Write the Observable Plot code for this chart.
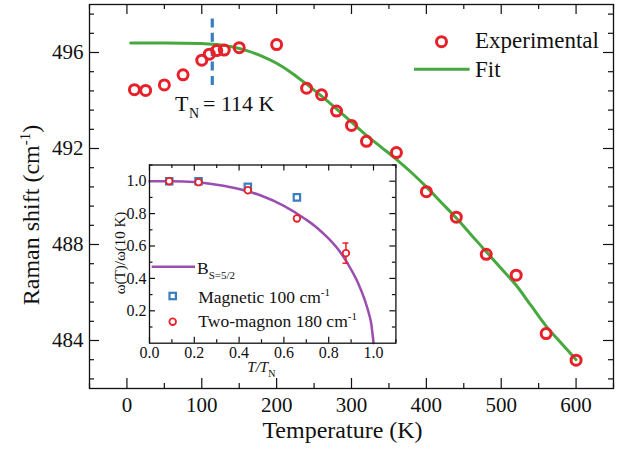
<!DOCTYPE html>
<html><head><meta charset="utf-8">
<script src="https://cdn.jsdelivr.net/npm/d3@7"></script>
<script src="https://cdn.jsdelivr.net/npm/@observablehq/plot@0.6"></script>
<style>
body{margin:0;background:#fff;}
#wrap{position:relative;width:620px;height:450px;}
#insetBox{position:absolute;left:100px;top:155px;}
text{white-space:pre;}
</style></head><body><div id="wrap"><div id="insetBox"></div></div>
<script>
// ---- Main panel data ----
const expT = [10, 25, 50, 75, 100, 110, 120, 130, 150, 200, 240, 260, 280, 300, 320, 360, 400, 440, 480, 520, 560, 600];
const expW = [494.45, 494.42, 494.65, 495.07, 495.68, 495.93, 496.08, 496.1, 496.2, 496.33, 494.51, 494.24, 493.56, 492.96, 492.30, 491.83, 490.20, 489.14, 487.59, 486.72, 484.29, 483.18];
const fitT = [5, 50, 100, 120, 140, 160, 180, 200, 220, 240, 260, 280, 300, 320, 340, 360, 380, 400, 420, 440, 460, 480, 500, 520, 540, 560, 580, 600];
const fitW = [496.40, 496.40, 496.38, 496.33, 496.24, 496.08, 495.85, 495.55, 495.15, 494.68, 494.18, 493.65, 493.10, 492.55, 492.05, 491.55, 491.0, 490.4, 489.75, 489.1, 488.4, 487.7, 487.0, 486.3, 485.45, 484.6, 483.9, 483.2];
const tnT = [114];
const tnSpan = [497.4, 494.5];
const xTickLabels = [0, 100, 200, 300, 400, 500, 600];
const yTickLabels = [484, 488, 492, 496];

// ---- Inset data ----
const magX = [0.088, 0.219, 0.439, 0.658];
const magY = [1.0, 1.0, 0.965, 0.90];
const tmX = [0.088, 0.219, 0.439, 0.658, 0.877];
const tmY = [1.0, 0.994, 0.944, 0.77, 0.556];
const tmErr = [0.015, 0.008, 0.01, 0.008, 0.062];
const bX = [0, 0.1, 0.2, 0.3, 0.4, 0.5, 0.6, 0.7, 0.75, 0.8, 0.85, 0.9, 0.93, 0.96, 0.98, 0.99, 1.0];
const bY = [1.0, 1.0, 0.995, 0.978, 0.952, 0.91, 0.848, 0.762, 0.71, 0.645, 0.565, 0.455, 0.375, 0.27, 0.18, 0.12, 0.0];
const ixTickLabels = [0, 0.2, 0.4, 0.6, 0.8, 1.0];
const iyTickLabels = [0.2, 0.4, 0.6, 0.8, 1.0];

const FONT = "'Liberation Serif','Times New Roman',serif";
const RED = "#e8202a", GREEN = "#47a83f", BLUE = "#3a7dc0", PURPLE = "#9a4fb0", INK = "#111";

const exp = expT.map((t, i) => ({t, w: expW[i]}));
const fit = fitT.map((t, i) => ({t, w: fitW[i]}));
const mag = magX.map((x, i) => ({x, y: magY[i]}));
const tm = tmX.map((x, i) => ({x, y: tmY[i], e: tmErr[i]}));
const brill = bX.map((x, i) => ({x, y: bY[i]}));

function ticksX(vals, len, fh) {
  return [
    Plot.ruleX(vals, {x: d => d, insetTop: fh - len, stroke: INK, strokeWidth: 1.2}),
    Plot.ruleX(vals, {x: d => d, insetBottom: fh - len, stroke: INK, strokeWidth: 1.2})
  ];
}
function ticksY(vals, len, fw) {
  return [
    Plot.ruleY(vals, {y: d => d, insetRight: fw - len, stroke: INK, strokeWidth: 1.2}),
    Plot.ruleY(vals, {y: d => d, insetLeft: fw - len, stroke: INK, strokeWidth: 1.2})
  ];
}

// ---- Main chart ----
const W = 620, H = 450, mL = 89, mR = 7, mT = 4, mB = 62;
const fw = W - mL - mR, fh = H - mT - mB;
const xMinor = d3.range(-50, 651, 50).filter(v => v % 100 !== 0);
const yAll = d3.range(0, 20).map(i => +(482.4 + 0.8 * i).toFixed(1)).filter(v => v < 498);
const yMinor = yAll.filter(v => !yTickLabels.includes(v));

const main = Plot.plot({
  width: W, height: H, marginLeft: mL, marginRight: mR, marginTop: mT, marginBottom: mB,
  style: {fontFamily: FONT, fontSize: "21px", color: INK, background: "white"},
  x: {domain: [-50, 650]},
  y: {domain: [482, 498]},
  marks: [
    Plot.axisX(xTickLabels, {tickSize: 0, tickPadding: 9, label: null, fontSize: 21}),
    Plot.axisY(yTickLabels, {tickSize: 0, tickPadding: 6, label: null, fontSize: 21}),
    ...ticksX(xTickLabels, 10, fh),
    ...ticksX(xMinor, 5, fh),
    ...ticksY(yTickLabels, 10, fw),
    ...ticksY(yMinor, 5, fw),
    Plot.line(fit, {x: "t", y: "w", stroke: GREEN, strokeWidth: 3, curve: "monotone-x"}),
    Plot.ruleX(tnT, {x: d => d, y1: tnSpan[0], y2: tnSpan[1], stroke: BLUE, strokeWidth: 3.2, strokeDasharray: "9,5.4"}),
    Plot.dot(exp, {x: "t", y: "w", r: 5, stroke: RED, strokeWidth: 3, fill: "none"}),
    Plot.frame({stroke: INK, strokeWidth: 1.3})
  ]
});
document.getElementById("wrap").prepend(main);

const svg = d3.select(main);
const g = svg.append("g").attr("font-family", FONT).attr("fill", INK).attr("text-anchor", "start");
// legend
g.append("circle").attr("cx", 441.5).attr("cy", 41.7).attr("r", 5).attr("fill", "none").attr("stroke", RED).attr("stroke-width", 3);
g.append("text").attr("x", 475).attr("y", 48.3).attr("font-size", 23).text("Experimental");
g.append("line").attr("x1", 414).attr("x2", 469.6).attr("y1", 69.3).attr("y2", 69.3).attr("stroke", GREEN).attr("stroke-width", 3);
g.append("text").attr("x", 475).attr("y", 76.7).attr("font-size", 23).text("Fit");
// T_N annotation
const tn = g.append("text").attr("y", 110.7).attr("font-size", 22);
tn.append("tspan").attr("x", 175).text("T");
tn.append("tspan").attr("x", 189).attr("dy", 7).attr("font-size", 14).text("N");
tn.append("tspan").attr("x", 203).attr("dy", -7).text("= 114 K");
// axis titles
g.append("text").attr("x", 342.5).attr("y", 438).attr("font-size", 24).attr("text-anchor", "middle").text("Temperature (K)");
const yl = g.append("text").attr("transform", "translate(39,215) rotate(-90)").attr("font-size", 24).attr("text-anchor", "middle");
yl.append("tspan").text("Raman shift (cm");
yl.append("tspan").attr("dy", -9).attr("font-size", 15).text("-1");
yl.append("tspan").attr("dy", 9).text(")");

// ---- Inset chart ----
const IW = 305, IH = 230, iL = 49, iT = 9.5, ifw = 246.4, ifh = 178.2;
const iR = IW - iL - ifw, iB = IH - iT - ifh;
const ixMinor = [0.1, 0.3, 0.5, 0.7, 0.9, 1.1];
const iyMinor = [0.1, 0.3, 0.5, 0.7, 0.9, 1.1];
const inset = Plot.plot({
  width: IW, height: IH, marginLeft: iL, marginTop: iT, marginRight: iR, marginBottom: iB,
  style: {fontFamily: FONT, fontSize: "16px", color: INK, background: "transparent", overflow: "visible"},
  x: {domain: [0, 1.1]},
  y: {domain: [0, 1.1]},
  marks: [
    Plot.frame({fill: "white", stroke: "none"}),
    Plot.axisX(ixTickLabels, {tickSize: 0, tickPadding: 3, label: null, tickFormat: d3.format(".1f"), fontSize: 16}),
    Plot.axisY(iyTickLabels, {tickSize: 0, tickPadding: 3, label: null, tickFormat: d3.format(".1f"), fontSize: 16}),
    ...ticksX(ixTickLabels, 6, ifh),
    ...ticksX(ixMinor, 3.5, ifh),
    ...ticksY(iyTickLabels, 6, ifw),
    ...ticksY(iyMinor, 3.5, ifw),
    Plot.line(brill, {x: "x", y: "y", stroke: PURPLE, strokeWidth: 2.5, curve: "monotone-x"}),
    Plot.dot(mag, {x: "x", y: "y", symbol: "square", r: 3.6, stroke: BLUE, strokeWidth: 2.2, fill: "white"}),
    Plot.ruleX(tm, {x: "x", y1: d => d.y - d.e, y2: d => d.y + d.e, stroke: RED, strokeWidth: 1.5}),
    Plot.ruleY(tm.filter(d => d.e > 0.03), {x1: "x", x2: "x", y: d => d.y - d.e, insetLeft: -3, insetRight: -3, stroke: RED, strokeWidth: 1.5}),
    Plot.ruleY(tm.filter(d => d.e > 0.03), {x1: "x", x2: "x", y: d => d.y + d.e, insetLeft: -3, insetRight: -3, stroke: RED, strokeWidth: 1.5}),
    Plot.dot(tm, {x: "x", y: "y", r: 3.3, stroke: RED, strokeWidth: 1.8, fill: "white"}),
    Plot.frame({stroke: INK, strokeWidth: 1.3})
  ]
});
document.getElementById("insetBox").appendChild(inset);
const ig = d3.select(inset).append("g").attr("font-family", FONT).attr("fill", INK).attr("text-anchor", "start");
// inset legend
ig.append("line").attr("x1", 51.7).attr("x2", 95).attr("y1", 111.7).attr("y2", 111.7).attr("stroke", PURPLE).attr("stroke-width", 2.5);
const bl = ig.append("text").attr("x", 97).attr("y", 118.5).attr("font-size", 17.5);
bl.append("tspan").text("B");
bl.append("tspan").attr("dy", 5).attr("font-size", 11).text("S=5/2");
ig.append("rect").attr("x", 72.7 - 3.2).attr("y", 141 - 3.2).attr("width", 6.4).attr("height", 6.4).attr("fill", "white").attr("stroke", BLUE).attr("stroke-width", 2.2);
const ml = ig.append("text").attr("x", 98.3).attr("y", 147.7).attr("font-size", 17.5);
ml.append("tspan").text("Magnetic 100 cm");
ml.append("tspan").attr("dy", -7).attr("font-size", 11).text("-1");
ig.append("circle").attr("cx", 72.7).attr("cy", 166.7).attr("r", 3.3).attr("fill", "white").attr("stroke", RED).attr("stroke-width", 1.8);
const tl = ig.append("text").attr("x", 98.3).attr("y", 171.7).attr("font-size", 17.5);
tl.append("tspan").text("Two-magnon 180 cm");
tl.append("tspan").attr("dy", -7).attr("font-size", 11).text("-1");
// inset axis titles
ig.append("text").attr("transform", "translate(25,98) rotate(-90)").attr("font-size", 15).attr("text-anchor", "middle").text("ω(T)/ω(10 K)");
const xl = ig.append("text").attr("x", 147.3).attr("y", 217).attr("font-size", 15);
xl.append("tspan").attr("font-style", "italic").text("T/T");
xl.append("tspan").attr("dy", 5).attr("font-size", 10).text("N");
</script>
</body></html>
